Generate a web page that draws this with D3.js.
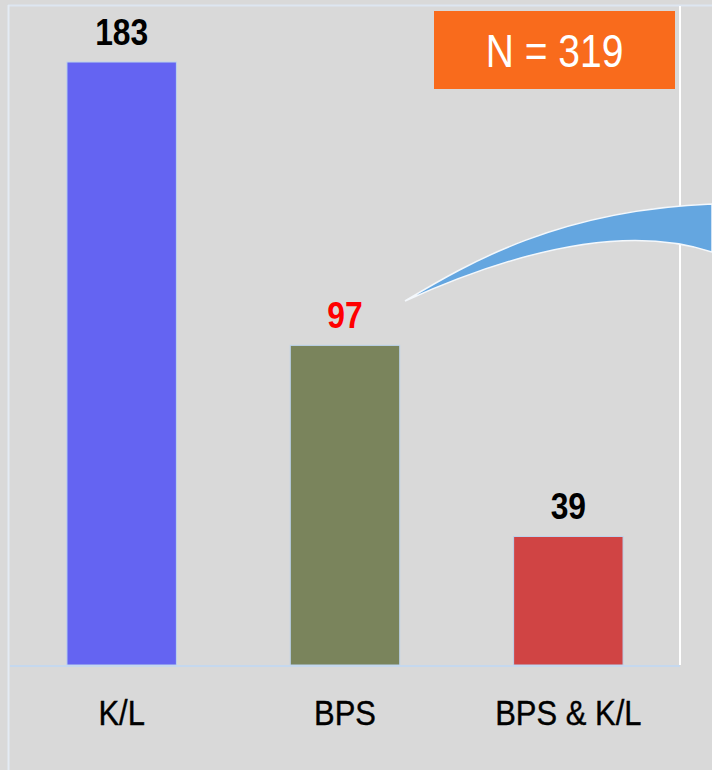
<!DOCTYPE html>
<html>
<head>
<meta charset="utf-8">
<script src="https://cdn.jsdelivr.net/npm/d3@7"></script>
<style>
  html, body { margin: 0; padding: 0; background: #d9d9d9; }
  svg { display: block; }
</style>
</head>
<body>
<div id="chart"></div>
<script>
// data ------------------------------------------------------------
const categories = ["K/L", "BPS", "BPS & K/L"];
const counts = [183, 97, 39];
const barColors = ["#6464f2", "#7a845c", "#d04444"];
const labelColors = ["#000000", "#ff0000", "#000000"];
const totalLabel = "N = 319";

// set up ----------------------------------------------------------
const svgWidth = 712;
const svgHeight = 770;
const plot = { left: 10, right: 680, top: 6, bottom: 665 };
// no narrow font installed, so text gets squeezed with scale()
const fontFam = "'Liberation Sans', Arial, sans-serif";

const svg = d3.select("#chart")
    .append("svg")
    .attr("width", svgWidth)
    .attr("height", svgHeight);

svg.append("rect")
    .attr("width", svgWidth)
    .attr("height", svgHeight)
    .attr("fill", "#d9d9d9");

// frame lines
svg.append("line")
    .attr("x1", 8).attr("x2", svgWidth)
    .attr("y1", 5.5).attr("y2", 5.5)
    .attr("stroke", "#dde6f1").attr("stroke-width", 2);
svg.append("line")
    .attr("x1", 8.5).attr("x2", 8.5)
    .attr("y1", 5).attr("y2", svgHeight)
    .attr("stroke", "#e4ebf4").attr("stroke-width", 2);
svg.append("line")
    .attr("x1", plot.right).attr("x2", plot.right)
    .attr("y1", 6).attr("y2", plot.bottom)
    .attr("stroke", "#ffffff").attr("stroke-width", 2);

// scales ----------------------------------------------------------
const x = d3.scaleBand()
    .domain(categories)
    .range([plot.left, plot.right])
    .paddingInner(0.51)
    .paddingOuter(0.255);

const y = d3.scaleLinear()
    .domain([0, 200])
    .range([plot.bottom, plot.top]);

// decorative swoosh
svg.append("path")
    .attr("d", "M405,301 C470,262 560,210 712,204 L712,252 C640,228 540,240 405,301 Z")
    .attr("fill", "#64a6e0")
    .attr("stroke", "#f4f8fc")
    .attr("stroke-width", 1.5);

// bars
svg.append("g")
    .selectAll("rect")
    .data(counts)
    .enter()
    .append("rect")
    .attr("x", (d, i) => x(categories[i]))
    .attr("y", d => y(d))
    .attr("width", x.bandwidth())
    .attr("height", d => y(0) - y(d))
    .attr("fill", (d, i) => barColors[i])
    .attr("stroke", "#bcd3ec")
    .attr("stroke-width", 1);

// value labels
svg.append("g")
    .selectAll("g")
    .data(counts)
    .enter()
    .append("g")
    .attr("transform", (d, i) => `translate(${x(categories[i]) + x.bandwidth() / 2},${y(d) - 17})`)
    .append("text")
    .attr("transform", "scale(0.86,1)")
    .attr("text-anchor", "middle")
    .attr("font-family", fontFam)
    .attr("font-weight", "bold")
    .attr("font-size", "37px")
    .attr("fill", (d, i) => labelColors[i])
    .text(d => d);

// x axis
const xAxis = svg.append("g")
    .attr("transform", `translate(0,${plot.bottom})`)
    .call(d3.axisBottom(x).tickSize(0).tickPadding(34));
xAxis.select(".domain")
    .attr("stroke", "#c5d8ee")
    .attr("stroke-width", 2)
    .attr("d", `M${plot.left},1H${plot.right}`);
xAxis.selectAll("text")
    .attr("transform", "scale(0.86,1)")
    .attr("font-family", fontFam)
    .attr("font-size", "36px")
    .attr("fill", "#000000")
    .attr("stroke", "#000000")
    .attr("stroke-width", 0.4)
    .attr("dy", "0.72em");

// N box
const box = svg.append("g");
box.append("rect")
    .attr("x", 434).attr("y", 11)
    .attr("width", 241).attr("height", 78)
    .attr("fill", "#f96b1c");
box.append("g")
    .attr("transform", `translate(${434 + 241 / 2},50)`)
    .append("text")
    .attr("transform", "scale(0.83,1)")
    .attr("dy", "0.36em")
    .attr("text-anchor", "middle")
    .attr("font-family", fontFam)
    .attr("font-size", "47px")
    .attr("fill", "#ffffff")
    .text(totalLabel);
</script>
</body>
</html>
